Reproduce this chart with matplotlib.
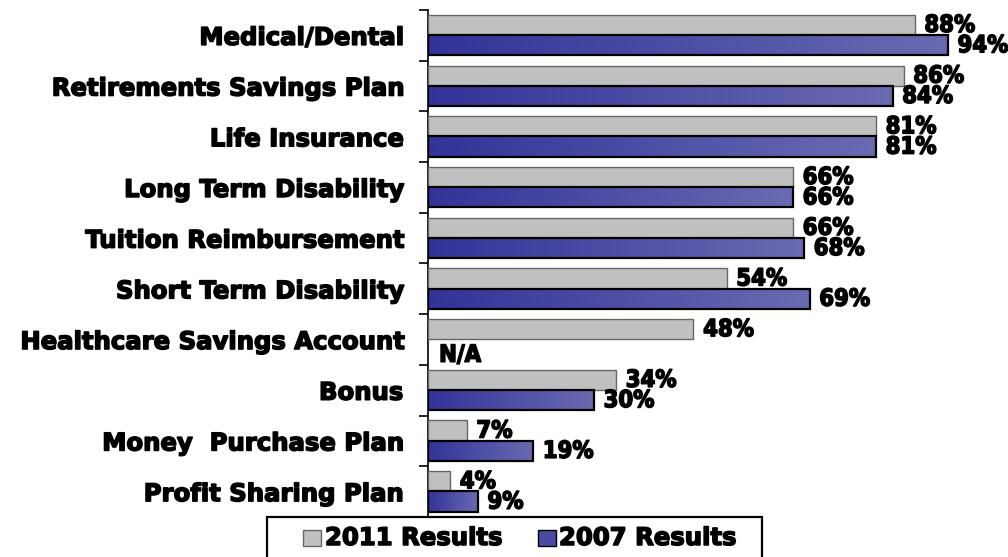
import numpy as np
import matplotlib
matplotlib.use("Agg")
import matplotlib.pyplot as plt
import matplotlib.patheffects as pe
from matplotlib.colors import LinearSegmentedColormap
from matplotlib.patches import Rectangle

# benefit categories, top to bottom
categories = ["Medical/Dental", "Retirements Savings Plan", "Life Insurance",
              "Long Term Disability", "Tuition Reimbursement", "Short Term Disability",
              "Healthcare Savings Account", "Bonus", "Money  Purchase Plan",
              "Profit Sharing Plan"]
results_2011 = [88, 86, 81, 66, 66, 54, 48, 34, 7, 4]
results_2007 = [94, 84, 81, 66, 68, 69, None, 30, 19, 9]   # HSA not asked in 2007
series_labels = ["2011 Results", "2007 Results"]

GREY, GREY_EDGE = "#c0c0c0", "#666666"
blue_fade = LinearSegmentedColormap.from_list("blue_fade", ["#333399", "#6a6ab2"])

W, H = 1008, 557
fig = plt.figure(figsize=(W / 100, H / 100), dpi=100)
ax = fig.add_axes([428 / W, 1 - 517 / H, 553 / W, 507 / H])

heavy = [pe.withStroke(linewidth=1.1, foreground="black")]
lab_font = dict(family="DejaVu Sans", weight="bold", size=17.5)
val_font = dict(family="DejaVu Sans", weight="bold", stretch="condensed", size=17)

y = np.arange(len(categories))
bh = 0.4
off_old, off_new = -0.205, 0.195

ax.barh(y + off_old, results_2011, height=bh, color=GREY, edgecolor=GREY_EDGE,
        lw=1.0, zorder=3)

has_2007 = np.array([v is not None for v in results_2007])
vals_2007 = [v for v in results_2007 if v is not None]
blue_bars = ax.barh(y[has_2007] + off_new, vals_2007, height=bh, facecolor="none",
                    edgecolor="black", lw=1.6, zorder=4)

# left-to-right fade inside each blue bar
grad = np.linspace(0, 1, 256).reshape(1, -1)
for r in blue_bars:
    x0, y0, w, h = r.get_x(), r.get_y(), r.get_width(), r.get_height()
    im = ax.imshow(grad, cmap=blue_fade, aspect="auto", interpolation="bilinear",
                   extent=(x0, x0 + w, y0, y0 + h), zorder=3)
    im.set_clip_path(r)

# value labels
for yi, v in zip(y, results_2011):
    ax.annotate(f"{v}%", (v, yi + off_old), xytext=(7, 0), textcoords="offset points",
                ha="left", va="center", path_effects=heavy, **val_font)
for yi, v in zip(y, results_2007):
    if v is None:
        ax.annotate("N/A", (0, yi + 0.3), xytext=(8, 0), textcoords="offset points",
                    ha="left", va="center", path_effects=heavy, **val_font)
    else:
        ax.annotate(f"{v}%", (v, yi + off_new), xytext=(7, 0), textcoords="offset points",
                    ha="left", va="center", path_effects=heavy, **val_font)

ax.set_xlim(0, 100)
ax.set_ylim(len(categories) - 0.5, -0.5)
ax.set_xticks([])
ax.set_yticks(y)
ax.set_yticklabels(categories, fontdict=lab_font)
for t in ax.get_yticklabels():
    t.set_path_effects(heavy)
ax.set_yticks(np.arange(-0.5, len(categories), 1), minor=True)
ax.tick_params(axis="y", which="major", length=0, pad=18)
ax.tick_params(axis="y", which="minor", length=6.5, width=1.2, direction="out")
for side in ("top", "right", "bottom"):
    ax.spines[side].set_visible(False)
ax.spines["left"].set_linewidth(1.2)

# legend box along the bottom edge, laid out in figure pixels
def px(x, ytop):
    return x / W, 1 - ytop / H

fig.add_artist(Rectangle(px(267, 565), (762 - 267) / W, 48 / H, transform=fig.transFigure,
                         facecolor="white", edgecolor="black", lw=1.6, zorder=5))
fig.add_artist(Rectangle(px(303, 546), 18 / W, 16 / H, transform=fig.transFigure,
                         facecolor=GREY, edgecolor=GREY_EDGE, lw=1.0, zorder=6))
fig.add_artist(Rectangle(px(538, 546), 18 / W, 16 / H, transform=fig.transFigure,
                         facecolor="#4a4aa3", edgecolor="black", lw=1.0, zorder=6))
leg_font = dict(family="DejaVu Sans", weight="bold", size=17.5)
fig.text(*px(325, 538), series_labels[0], ha="left", va="center", zorder=6,
         path_effects=heavy, **leg_font)
fig.text(*px(559, 538), series_labels[1], ha="left", va="center", zorder=6,
         path_effects=heavy, **leg_font)

fig.savefig("out.png", dpi=100)
